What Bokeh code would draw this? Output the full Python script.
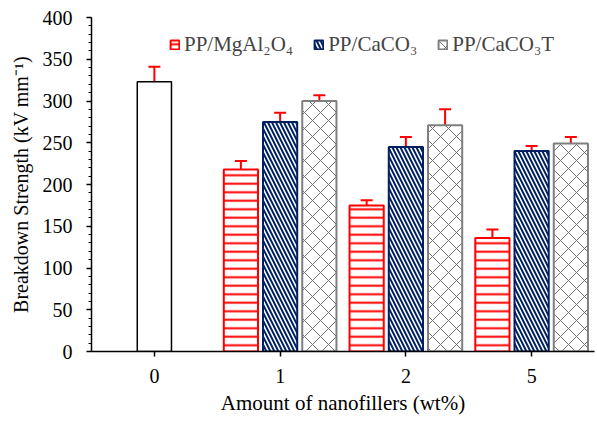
from bokeh.plotting import figure
from bokeh.models import (ColumnDataSource, FactorRange, Whisker, TeeHead, Legend, LegendItem,
                          SingleIntervalTicker, Range1d)
from bokeh.transform import dodge
from bokeh.embed import file_html
from bokeh.resources import INLINE

# ---- data ----
categories = ["0", "1", "2", "5"]
filled_cats = ["1", "2", "5"]
control_value = [323]
control_err = [18]
mgal2o4 = [218, 175, 136]
mgal2o4_err = [10, 6, 10]
caco3 = [275, 245, 240]
caco3_err = [11, 12, 6]
caco3t = [300, 271, 249]
caco3t_err = [7, 19, 8]
legend_labels = ["PP/MgAl\u2082O\u2084", "PP/CaCO\u2083", "PP/CaCO\u2083T"]

FONT = "Liberation Serif"

p = figure(width=597, height=421, x_range=FactorRange(factors=categories, range_padding=0),
           y_range=Range1d(0, 400), output_backend="svg", toolbar_location=None,
           min_border_left=91, min_border_right=3, min_border_top=17, min_border_bottom=70)
p.outline_line_color = None
p.xgrid.visible = False
p.ygrid.visible = False
p.background_fill_color = "white"

W = 0.272
OFF = 0.312

ctrl_src = ColumnDataSource(dict(x=["0"], top=control_value,
                                 upper=[v + e for v, e in zip(control_value, control_err)],
                                 lower=[v - e for v, e in zip(control_value, control_err)]))
src = ColumnDataSource(dict(
    x=filled_cats,
    m=mgal2o4, m_up=[v + e for v, e in zip(mgal2o4, mgal2o4_err)], m_lo=[v - e for v, e in zip(mgal2o4, mgal2o4_err)],
    c=caco3, c_up=[v + e for v, e in zip(caco3, caco3_err)], c_lo=[v - e for v, e in zip(caco3, caco3_err)],
    t=caco3t, t_up=[v + e for v, e in zip(caco3t, caco3t_err)], t_lo=[v - e for v, e in zip(caco3t, caco3t_err)],
))

p.vbar(x="x", top="top", width=W, source=ctrl_src, fill_color="white", line_color="black", line_width=1.5)

r_m = p.vbar(x=dodge("x", -OFF, range=p.x_range), top="m", width=W, source=src,
             fill_color="white", line_color="#ff0000", line_width=2,
             hatch_pattern="horizontal_line", hatch_color="#ff0000", hatch_weight=2, hatch_scale=8.5)
r_c = p.vbar(x="x", top="c", width=W, source=src,
             fill_color="white", line_color="#002060", line_width=2,
             hatch_pattern="left_diagonal_line", hatch_color="#002060", hatch_weight=2, hatch_scale=8)
r_t = p.vbar(x=dodge("x", OFF, range=p.x_range), top="t", width=W, source=src,
             fill_color="white", line_color="#7f7f7f", line_width=2,
             hatch_pattern="diagonal_cross", hatch_color="#707070", hatch_weight=1, hatch_scale=16)

def whisker(base, upper, lower, source):
    w = Whisker(base=base, upper=upper, lower=lower, source=source, line_color="#ff0000", line_width=2,
                upper_head=TeeHead(size=12, line_color="#ff0000", line_width=2),
                lower_head=TeeHead(size=12, line_color="#ff0000", line_width=2))
    p.add_layout(w)

whisker("x", "upper", "lower", ctrl_src)
whisker(dodge("x", -OFF, range=p.x_range), "m_up", "m_lo", src)
whisker("x", "c_up", "c_lo", src)
whisker(dodge("x", OFF, range=p.x_range), "t_up", "t_lo", src)

# axes
p.yaxis.ticker = SingleIntervalTicker(interval=50, num_minor_ticks=5)
for ax in (p.xaxis[0], p.yaxis[0]):
    ax.axis_line_color = "black"
    ax.axis_line_width = 1.5
    ax.major_tick_line_color = "black"
    ax.major_tick_line_width = 1.5
    ax.major_tick_in = 0
    ax.major_tick_out = 5
    ax.major_label_text_font = FONT
    ax.major_label_text_font_size = "20px"
    ax.major_label_text_color = "black"
    ax.axis_label_text_font = FONT
    ax.axis_label_text_font_size = "20px"
    ax.axis_label_text_font_style = "normal"
    ax.axis_label_text_color = "black"
p.xaxis.axis_label_text_font_size = "21px"
p.yaxis.minor_tick_in = 0
p.yaxis.minor_tick_out = 3
p.yaxis.minor_tick_line_color = "black"
p.yaxis.major_label_standoff = 14
p.yaxis.axis_label = "Breakdown Strength (kV mm\u207b\u00b9)"
p.yaxis.axis_label_standoff = 8
p.xaxis.axis_label = "Amount of nanofillers (wt%)"
p.xaxis.major_label_standoff = 12
p.xaxis.axis_label_standoff = 5

legend = Legend(items=[LegendItem(label=legend_labels[0], renderers=[r_m]),
                       LegendItem(label=legend_labels[1], renderers=[r_c]),
                       LegendItem(label=legend_labels[2], renderers=[r_t])],
                orientation="horizontal", location=(78, 294), padding=0, margin=0,
                spacing=20, glyph_width=11, glyph_height=11, label_standoff=4,
                label_text_font=FONT, label_text_font_size="21px",
                border_line_alpha=0, background_fill_alpha=0)
p.add_layout(legend)

open("out.html", "w").write(file_html(p, INLINE))
